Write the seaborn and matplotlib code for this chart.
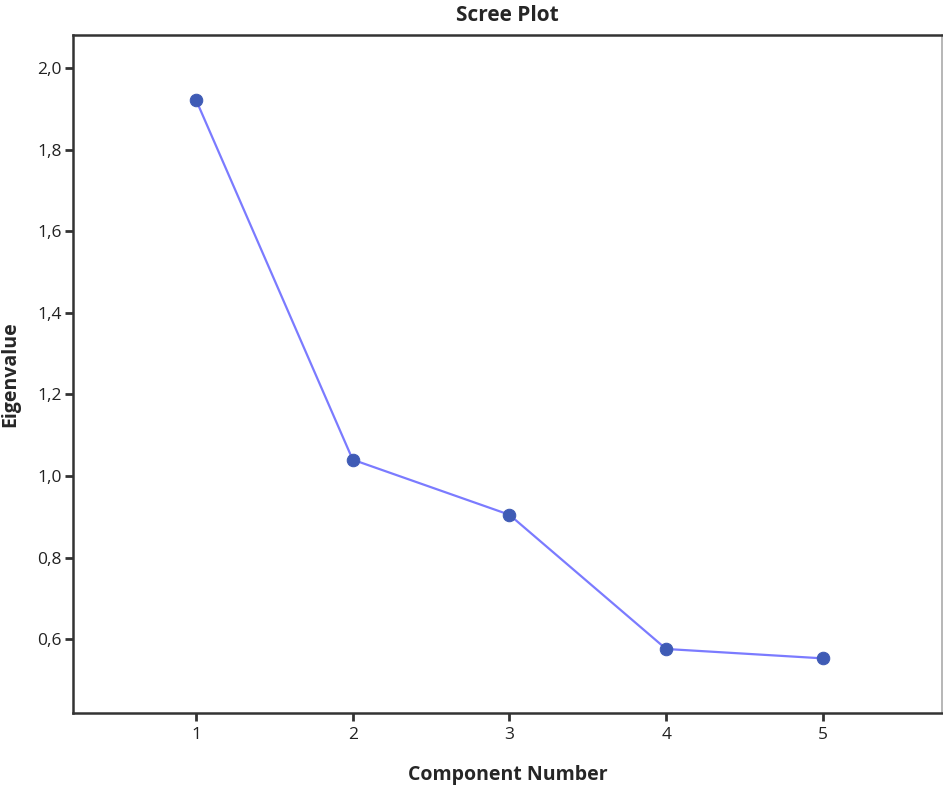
import matplotlib
matplotlib.use('Agg')
import matplotlib.pyplot as plt
import seaborn as sns
import pandas as pd
from matplotlib.ticker import FuncFormatter

# Valores
components = [1, 2, 3, 4, 5]
eigenvalues = [1.922, 1.040, 0.905, 0.576, 0.553]
y_ticks = [0.6, 0.8, 1.0, 1.2, 1.4, 1.6, 1.8, 2.0]

df = pd.DataFrame({'component': components, 'eigenvalue': eigenvalues})

sns.set_style('white')
plt.rcParams['font.family'] = ['Open Sans', 'DejaVu Sans']

fig = plt.figure(figsize=(9.43, 7.87), dpi=100)
ax = fig.add_axes([0.0774, 0.094, 0.9215, 0.8615])

sns.lineplot(data=df, x='component', y='eigenvalue', ax=ax,
             color='#7b7bff', linewidth=1.6, marker='o', markersize=9,
             markerfacecolor='#3f5bb5', markeredgecolor='#3f5bb5')

ax.set_xlim(0.215, 5.76)
ax.set_ylim(0.419, 2.081)
ax.set_xticks(components)
ax.set_yticks(y_ticks)
ax.yaxis.set_major_formatter(FuncFormatter(lambda v, p: f'{v:.1f}'.replace('.', ',')))
ax.tick_params(axis='both', direction='out', length=6, width=2, color='#333333',
               labelsize=12.5, labelcolor='#222222', pad=2,
               bottom=True, left=True)
ax.tick_params(axis='x', pad=4)

for side in ['left', 'bottom', 'top']:
    ax.spines[side].set_color('#333333')
    ax.spines[side].set_linewidth(1.8)
ax.spines['right'].set_color('#aaaaaa')
ax.spines['right'].set_linewidth(1.2)

ax.set_title('Scree Plot', fontsize=15, fontweight='bold', pad=10)
ax.set_xlabel('Component Number', fontsize=14, fontweight='bold', labelpad=16)
ax.set_ylabel('Eigenvalue', fontsize=14, fontweight='bold', labelpad=12)

plt.savefig('out.png', dpi=100)
